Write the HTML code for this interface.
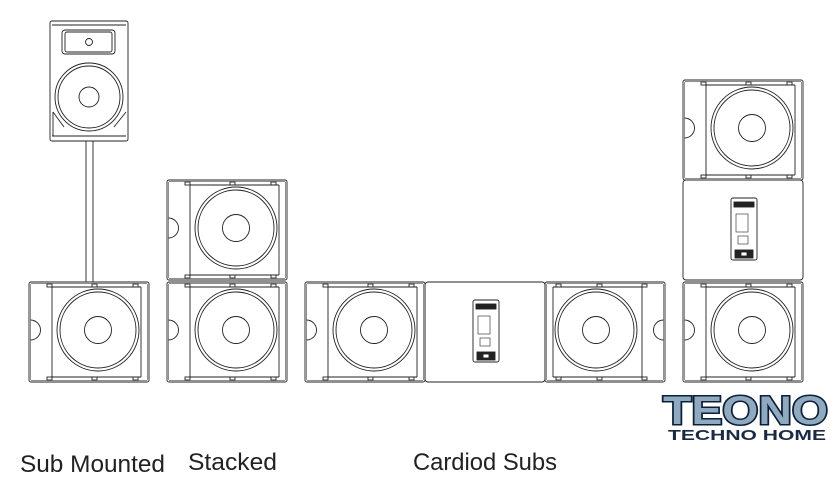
<!DOCTYPE html>
<html><head><style>
body{margin:0;background:#fff;width:840px;height:498px;overflow:hidden}
svg{display:block}
</style></head><body>
<svg width="840" height="498" viewBox="0 0 840 498" xmlns="http://www.w3.org/2000/svg">
<defs>
<g id="sub" fill="none" stroke="#222" stroke-width="0.9">
  <rect x="0" y="0" width="120" height="100" rx="2"/>
  <rect x="1.5" y="1.5" width="117" height="97" rx="1.5" stroke-width="0.5"/>
  <line x1="23" y1="4" x2="23" y2="96"/>
  <line x1="23" y1="5" x2="112" y2="5"/><line x1="23" y1="95" x2="112" y2="95"/>
  <line x1="112" y1="5" x2="112" y2="95"/>
  <circle cx="69" cy="48" r="41"/>
  <circle cx="69" cy="48" r="38"/>
  <circle cx="69" cy="48" r="13.5"/>
  <path d="M1.5,38 A10,10 0 0 1 1.5,58"/>
  <rect x="18" y="2" width="5" height="3"/><rect x="63" y="2" width="5" height="3"/><rect x="104" y="2" width="5" height="3"/>
  <rect x="18" y="95" width="5" height="3"/><rect x="63" y="95" width="5" height="3"/><rect x="104" y="95" width="5" height="3"/>
</g>
<g id="rear" fill="none" stroke="#222" stroke-width="0.9">
  <rect x="0" y="0" width="120" height="100" rx="3"/>
  <rect x="48" y="18" width="26" height="62" rx="2"/>
  <rect x="51" y="22" width="20" height="5" fill="#222"/>
  <rect x="53" y="34" width="12" height="18" stroke-width="0.6"/>
  <rect x="55" y="56" width="10" height="8" stroke-width="0.6"/>
  <rect x="52" y="70" width="18" height="8" fill="#222"/>
  <rect x="58" y="72" width="6" height="4" fill="#fff"/>
</g>
</defs>
<!-- Sub mounted -->
<g fill="none" stroke="#222" stroke-width="0.9">
  <rect x="50" y="21" width="78" height="120" rx="2"/>
  <line x1="52" y1="25" x2="126" y2="25"/><line x1="52" y1="136" x2="126" y2="136"/>
  <rect x="62" y="30" width="53" height="24" rx="3"/>
  <rect x="65" y="32" width="47" height="20" rx="2"/>
  <circle cx="89" cy="42" r="3.5"/>
  <circle cx="89" cy="97" r="34"/><circle cx="89" cy="97" r="31"/>
  <circle cx="89" cy="97" r="10"/>
  <line x1="53" y1="112" x2="64" y2="127"/><line x1="126" y1="112" x2="114" y2="127"/>
  <line x1="53" y1="112" x2="53" y2="136"/>
  <rect x="86" y="141" width="7" height="141"/>
</g>
<use href="#sub" x="29" y="282"/>
<!-- Stacked -->
<use href="#sub" x="167" y="180"/>
<use href="#sub" x="167" y="282"/>
<!-- Cardioid -->
<use href="#sub" x="305" y="282"/>
<use href="#rear" x="425" y="282"/>
<use href="#sub" transform="translate(665,282) scale(-1,1)"/>
<!-- Right column -->
<use href="#sub" x="683" y="80"/>
<use href="#rear" x="683" y="180"/>
<use href="#sub" x="683" y="282"/>
<!-- Labels -->
<g font-family="Liberation Sans, sans-serif" font-size="24" fill="#222">
  <text x="20" y="472" textLength="145" lengthAdjust="spacingAndGlyphs">Sub Mounted</text>
  <text x="188" y="470" textLength="89" lengthAdjust="spacingAndGlyphs">Stacked</text>
  <text x="413" y="470" textLength="144" lengthAdjust="spacingAndGlyphs">Cardiod Subs</text>
</g>
<!-- Logo -->
<g font-family="Liberation Sans, sans-serif" font-weight="bold">
  <text x="663" y="424" font-size="40" fill="#8fa9be" stroke="#0c1e3a" stroke-width="3" paint-order="stroke" textLength="165" lengthAdjust="spacingAndGlyphs">TEONO</text>
  <text x="668" y="440" font-size="15" fill="#1b2a44" textLength="158" lengthAdjust="spacingAndGlyphs">TECHNO HOME</text>
</g>
</svg>
</body></html>
